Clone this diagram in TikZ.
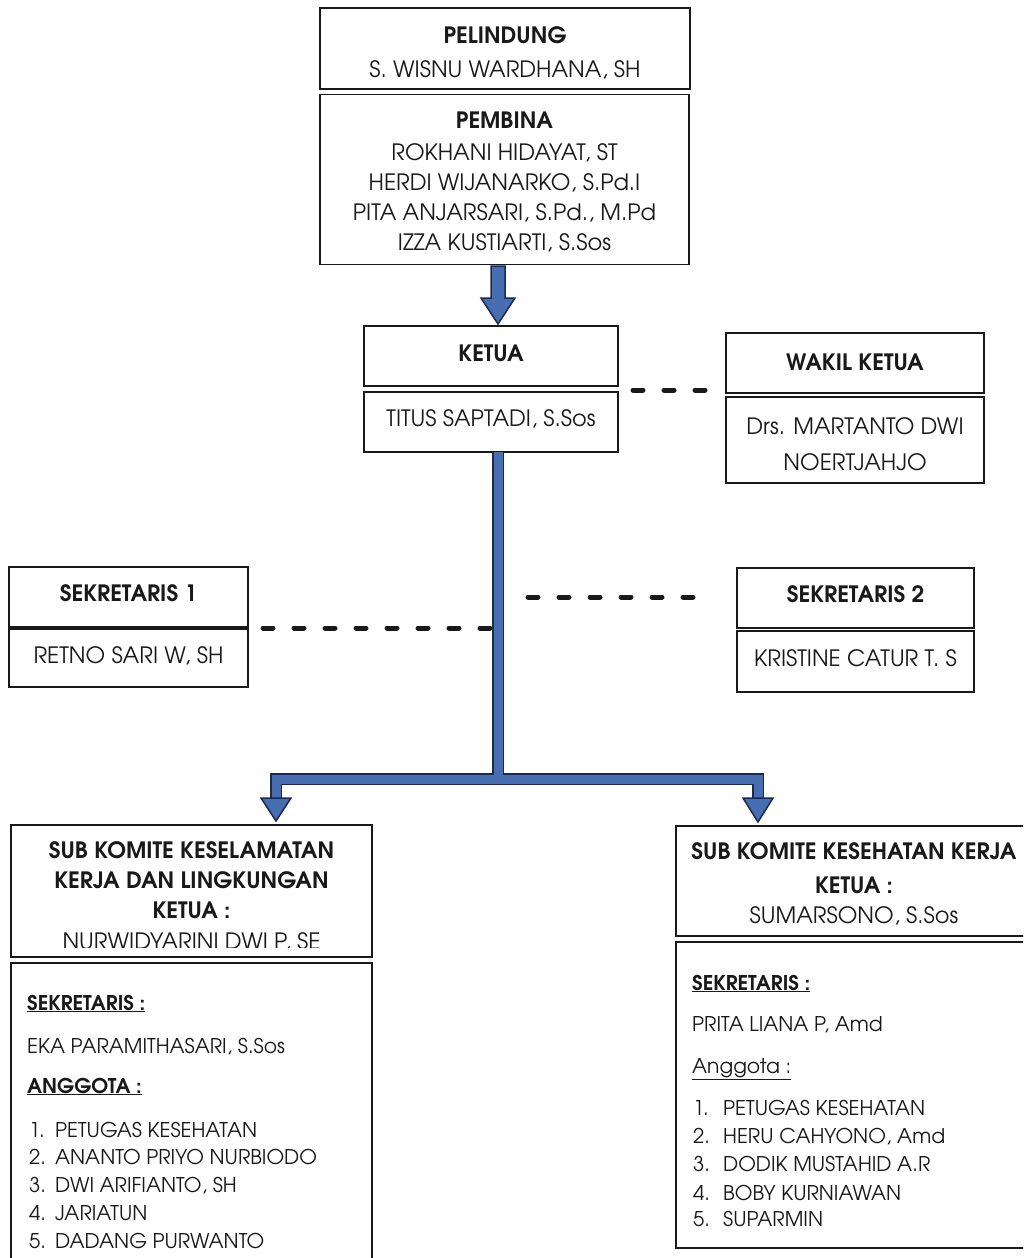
\documentclass[tikz,border=0pt]{standalone}
\usepackage{fontspec}
\setmainfont{TeX Gyre Adventor}
\usetikzlibrary{calc}
\definecolor{ink}{RGB}{25,25,25}
\definecolor{linkblue}{RGB}{72,110,178}
\definecolor{linkdark}{RGB}{28,42,80}
\newcommand\boxfont{\fontsize{22.5}{30}\selectfont}
\newcommand\listfont{\fontsize{20.3}{30}\selectfont}
\tikzset{
  box/.style={draw=ink, line width=1.4pt, rectangle, inner sep=0pt},
  tline/.style={inner sep=0pt, text=ink, font=\boxfont, anchor=base},
  lbl/.style={inner sep=0pt, text=ink, font=\listfont, anchor=base west},
  dashlink/.style={draw=ink, line width=5pt, dash pattern=on 10pt off 21pt, line cap=round},
  trunkout/.style={draw=linkdark, line width=12pt},
  trunkin/.style={draw=linkblue, line width=9pt},
  headstyle/.style={fill=linkblue, draw=linkdark, line width=1.5pt, line join=miter},
}
\begin{document}
\begin{tikzpicture}[x=1pt,y=-1pt]
\clip (0,0) rectangle (1023,1258);
\fill[white] (0,0) rectangle (1023,1258);

% ---------- boxes ----------
\node[box, minimum width=370pt, minimum height=81pt] (pel) at (505,48.5) {};
\node[box, minimum width=369pt, minimum height=170pt] (pem) at (504.5,179.5) {};
\node[box, minimum width=254pt, minimum height=60pt] (kt) at (491,356) {};
\node[box, minimum width=254pt, minimum height=60pt] (kb) at (491,422) {};
\node[box, minimum width=258pt, minimum height=60pt] (wt) at (855,363) {};
\node[box, minimum width=258pt, minimum height=86pt] (wb) at (855,440) {};
\node[box, minimum width=239pt, minimum height=60pt] (s1t) at (128.5,597) {};
\node[box, minimum width=239pt, minimum height=58pt] (s1b) at (128.5,658) {};
\node[box, minimum width=237pt, minimum height=60pt] (s2t) at (855.5,598) {};
\node[box, minimum width=237pt, minimum height=61pt] (s2b) at (855.5,661.5) {};
\node[box, minimum width=361pt, minimum height=132pt] (lst) at (191.5,891) {};
\node[box, minimum width=361pt, minimum height=307pt] (lsb) at (191.5,1116.5) {};
\node[box, minimum width=356pt, minimum height=110pt] (rst) at (854,881) {};
\node[box, minimum width=356pt, minimum height=306pt] (rsb) at (854,1095) {};

% ---------- box texts ----------
\node[tline] (pel1) at (505,43) {\textbf{PELINDUNG}};
\node[tline] (pel2) at (505,77) {S. WISNU WARDHANA, SH};
\node[tline] (pem1) at (504.5,128) {\textbf{PEMBINA}};
\node[tline] (pem2) at (504.5,160) {ROKHANI HIDAYAT, ST};
\node[tline] (pem3) at (504.5,190) {HERDI WIJANARKO, S.Pd.I};
\node[tline] (pem4) at (504.5,220) {PITA ANJARSARI, S.Pd., M.Pd};
\node[tline] (pem5) at (504.5,250) {IZZA KUSTIARTI, S.Sos};
\node[tline] (kt1) at (491,361) {\textbf{KETUA}};
\node[tline] (kb1) at (491,426) {TITUS SAPTADI, S.Sos};
\node[tline] (wt1) at (855,370.5) {\textbf{WAKIL KETUA}};
\node[tline] (wb1) at (855,434) {Drs. MARTANTO DWI};
\node[tline] (wb2) at (855,470) {NOERTJAHJO};
\node[tline] (s1t1) at (128.5,601) {\textbf{SEKRETARIS 1}};
\node[tline] (s1b1) at (128.5,663) {RETNO SARI W, SH};
\node[tline] (s2t1) at (855.5,602) {\textbf{SEKRETARIS 2}};
\node[tline] (s2b1) at (855.5,666.5) {KRISTINE CATUR T. S};

\node[tline] (lst1) at (191.5,858.5) {\textbf{SUB KOMITE KESELAMATAN}};
\node[tline] (lst2) at (191.5,888.5) {\textbf{KERJA DAN LINGKUNGAN}};
\node[tline] (lst3) at (191.5,918.5) {\textbf{KETUA :}};
\begin{scope}
  \clip (12,930) rectangle (371,947.5);
  \node[tline] (lst4) at (191.5,949.5) {NURWIDYARINI DWI P, SE};
\end{scope}
\node[tline] (rst1) at (854,859) {\textbf{SUB KOMITE KESEHATAN KERJA}};
\node[tline] (rst2) at (854,893) {\textbf{KETUA :}};
\node[tline] (rst3) at (854,923) {SUMARSONO, S.Sos};

% ---------- left lower contents ----------
\node[lbl] (l1) at (27,1010) {\textbf{\underline{SEKRETARIS :}}};
\node[lbl] (l2) at (27,1053) {EKA PARAMITHASARI, S.Sos};
\node[lbl] (l3) at (27,1093) {\textbf{\underline{ANGGOTA :}}};
\node[lbl] (ln1) at (29,1137) {1.};  \node[lbl] (lm1) at (55,1137) {PETUGAS KESEHATAN};
\node[lbl] (ln2) at (29,1164) {2.};  \node[lbl] (lm2) at (55,1164) {ANANTO PRIYO NURBIODO};
\node[lbl] (ln3) at (29,1192) {3.};  \node[lbl] (lm3) at (55,1192) {DWI ARIFIANTO, SH};
\node[lbl] (ln4) at (29,1220) {4.};  \node[lbl] (lm4) at (55,1220) {JARIATUN};
\node[lbl] (ln5) at (29,1248) {5.};  \node[lbl] (lm5) at (55,1248) {DADANG PURWANTO};

% ---------- right lower contents ----------
\node[lbl] (r1) at (692,990) {\textbf{\underline{SEKRETARIS :}}};
\node[lbl] (r2) at (692,1031) {PRITA LIANA P, Amd};
\node[lbl] (r3) at (692,1073) {\underline{Anggota :}};
\node[lbl] (rn1) at (693,1115) {1.};  \node[lbl] (rm1) at (723,1115) {PETUGAS KESEHATAN};
\node[lbl] (rn2) at (693,1143) {2.};  \node[lbl] (rm2) at (723,1143) {HERU CAHYONO, Amd};
\node[lbl] (rn3) at (693,1171) {3.};  \node[lbl] (rm3) at (723,1171) {DODIK MUSTAHID A.R};
\node[lbl] (rn4) at (693,1200) {4.};  \node[lbl] (rm4) at (723,1200) {BOBY KURNIAWAN};
\node[lbl] (rn5) at (693,1226) {5.};  \node[lbl] (rm5) at (723,1226) {SUPARMIN};

% ---------- top block arrow pembina -> ketua ----------
\coordinate (ta) at (498,266);
\coordinate (tb) at (498,324);
\filldraw[headstyle] ($(ta)+(-7,0)$) -- ($(ta)+(7,0)$) -- ($(tb)+(7,-26)$) -- ($(tb)+(17,-26)$) -- (tb) -- ($(tb)+(-17,-26)$) -- ($(tb)+(-7,-26)$) -- cycle;

% ---------- trunk from ketua to sub committees ----------
\coordinate (j0) at (498,452);
\coordinate (jb) at (498,779);
\coordinate (la) at (276,800);
\coordinate (ra) at (758,800);
\draw[trunkout] (j0) -- (jb);
\draw[trunkout, line join=miter] (la) |- (jb) -| (ra);
\draw[trunkin] (j0) -- (jb);
\draw[trunkin, line join=miter] (la) |- (jb) -| (ra);
\filldraw[headstyle] ($(la)+(-15,-2)$) -- ($(la)+(15,-2)$) -- ($(la)+(0,21)$) -- cycle;
\filldraw[headstyle] ($(ra)+(-15,-2)$) -- ($(ra)+(15,-2)$) -- ($(ra)+(0,22)$) -- cycle;

% ---------- dashed links ----------
\coordinate (dw1) at (633,390);  \coordinate (dw2) at (705,390);
\coordinate (d11) at (263,628);  \coordinate (d12) at (491,628);
\coordinate (d21) at (528,597);  \coordinate (d22) at (708,597);
\draw[dashlink] (dw1) -- (dw2);
\draw[dashlink] (d11) -- (d12);
\draw[dashlink] (d21) -- (d22);
\end{tikzpicture}
\end{document}
